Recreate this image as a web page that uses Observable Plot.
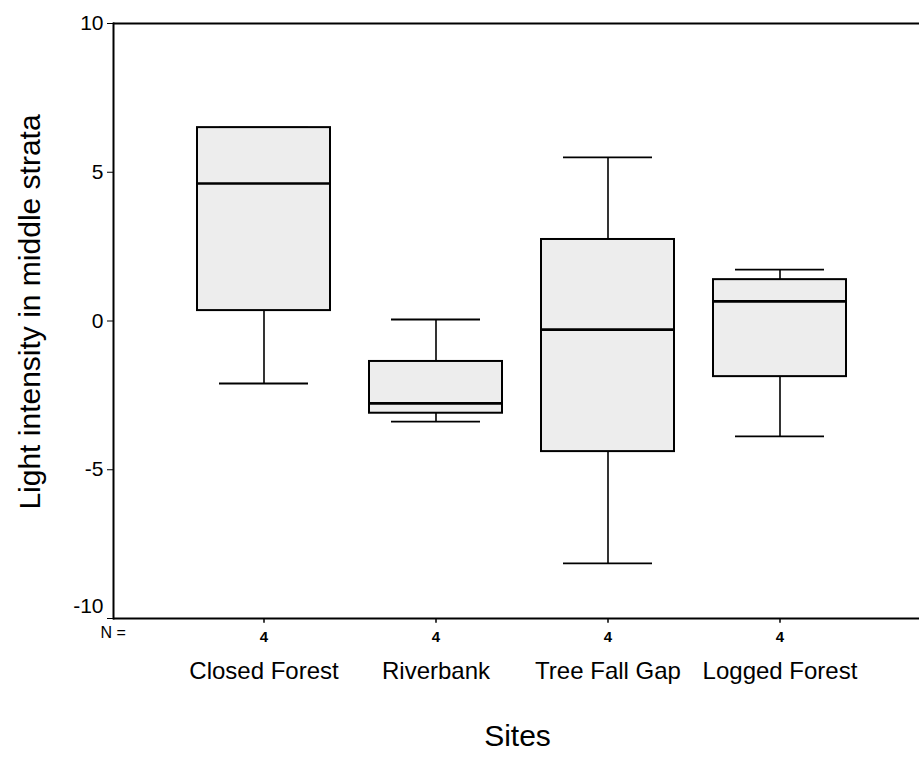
<!DOCTYPE html>
<html>
<head>
<meta charset="utf-8">
<script src="https://cdn.jsdelivr.net/npm/d3@7"></script>
<script src="https://cdn.jsdelivr.net/npm/@observablehq/plot@0.6"></script>
<style>
  html, body { margin: 0; padding: 0; background: #ffffff; }
  #chart svg { display: block; font-family: "Liberation Sans", Arial, sans-serif; }
</style>
</head>
<body>
<div id="chart"></div>
<script>
const sites = ["Closed Forest", "Riverbank", "Tree Fall Gap", "Logged Forest"];
const nValues = [4, 4, 4, 4];
const whiskerMin = [-2.1, -3.38, -8.15, -3.88];
const q1Values = [0.35, -3.1, -4.39, -1.87];
const medianValues = [4.62, -2.77, -0.29, 0.66];
const q3Values = [6.5, -1.36, 2.74, 1.39];
const whiskerMax = [6.5, 0.05, 5.5, 1.73];
const yTicks = [-10, -5, 0, 5, 10];

const rows = sites.map((s, i) => ({
  site: s, n: nValues[i], min: whiskerMin[i], q1: q1Values[i],
  median: medianValues[i], q3: q3Values[i], max: whiskerMax[i]
}));

const chart = Plot.plot({
  width: 919,
  height: 764,
  marginTop: 23,
  marginBottom: 146,
  marginLeft: 113,
  marginRight: 0,
  style: { fontFamily: "Liberation Sans, Arial, sans-serif", fontSize: "21px", background: "#ffffff", color: "#000" },
  x: { domain: sites, range: [113, 930], paddingInner: 0.227, paddingOuter: 0.488, axis: null },
  y: { type: "linear", domain: [-10, 10], ticks: yTicks, tickSize: 6, tickPadding: 4, label: null, tickFormat: d => String(d) },
  marks: [
    Plot.ruleY([-10, 10], { stroke: "#000", strokeWidth: 2 }),
    Plot.frame({ anchor: "left", stroke: "#000", strokeWidth: 2 }),
    Plot.ruleX(rows, { x: "site", y1: "q3", y2: "max", stroke: "#000", strokeWidth: 1.6 }),
    Plot.ruleX(rows, { x: "site", y1: "min", y2: "q1", stroke: "#000", strokeWidth: 1.6 }),
    Plot.tickY(rows, { x: "site", y: "max", stroke: "#000", strokeWidth: 1.8, insetLeft: 22, insetRight: 22 }),
    Plot.tickY(rows, { x: "site", y: "min", stroke: "#000", strokeWidth: 1.8, insetLeft: 22, insetRight: 22 }),
    Plot.barY(rows, { x: "site", y1: "q1", y2: "q3", fill: "#ededed", stroke: "#000", strokeWidth: 2 }),
    Plot.tickY(rows, { x: "site", y: "median", stroke: "#000", strokeWidth: 2.6 }),
    // x ticks below the axis
    Plot.ruleX(rows, { x: "site", y1: -10, y2: -10.16, stroke: "#000", strokeWidth: 1.5 }),
    Plot.text(rows, { x: "site", y: -10, text: d => String(d.n), dy: 19, fontSize: 15, fontWeight: "bold", fill: "#000" }),
    Plot.text(rows, { x: "site", y: -10, text: "site", dy: 53, fontSize: 24, fill: "#000" }),
    Plot.text(["N ="], { frameAnchor: "bottom-left", text: d => d, dx: -13, dy: 19, textAnchor: "start", fontSize: 16, fill: "#000" }),
    Plot.text(["Sites"], { frameAnchor: "bottom", text: d => d, dx: 1, dy: 127, fontSize: 30, fill: "#000" }),
    Plot.text(["Light intensity in middle strata"], { frameAnchor: "left", textAnchor: "middle", text: d => d, dx: -83, dy: -9, rotate: -90, fontSize: 30, fill: "#000" })
  ]
});

// SPSS lifts the bottom tick label clear of the N row
chart.querySelectorAll("text").forEach(t => {
  if (t.textContent === "-10" && t.getAttribute("font-size") == null) {
    const y = parseFloat(t.getAttribute("y") || "0");
    t.setAttribute("y", String(y - 6));
  }
});
document.getElementById("chart").appendChild(chart);
</script>
</body>
</html>
